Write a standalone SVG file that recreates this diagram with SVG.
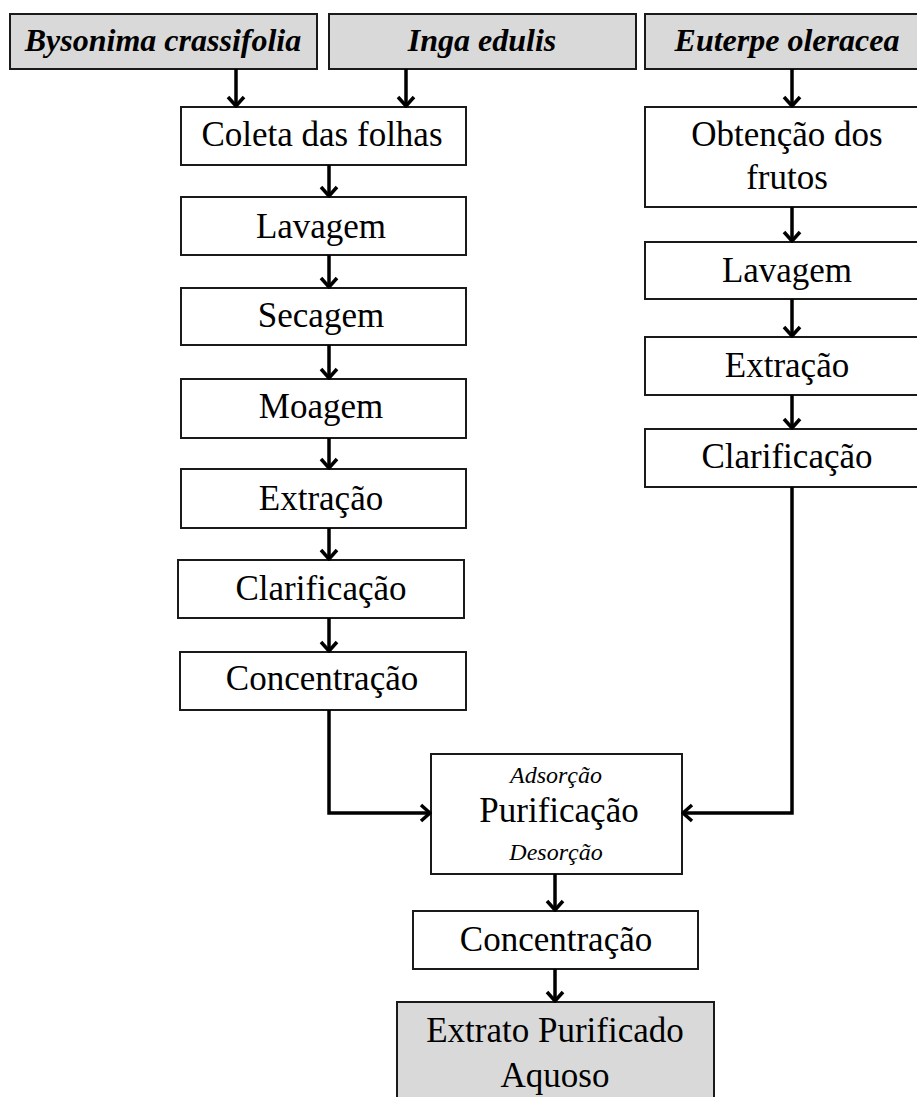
<svg xmlns="http://www.w3.org/2000/svg" width="917" height="1097" viewBox="0 0 917 1097">
<style>
.box{fill:#ffffff;stroke:#1a1a1a;stroke-width:2}
.gbox{fill:#d9d9d9;stroke:#1a1a1a;stroke-width:2}
.t{font-family:"Liberation Serif","Times New Roman",serif;font-size:35px;fill:#000;text-anchor:middle}
.h{font-family:"Liberation Serif","Times New Roman",serif;font-size:32px;font-weight:bold;font-style:italic;fill:#000;text-anchor:middle}
.s{font-family:"Liberation Serif","Times New Roman",serif;font-size:24px;font-style:italic;fill:#000;text-anchor:middle}
.c{fill:none;stroke:#000;stroke-width:3.5}
</style>
<defs>
<marker id="ah" viewBox="-12 -10 14 20" refX="0" refY="0" markerWidth="14" markerHeight="20" markerUnits="userSpaceOnUse" orient="auto">
<path d="M-9,-8 L0,0 L-9,8" fill="none" stroke="#000" stroke-width="3.5"/>
</marker>
</defs>
<rect width="917" height="1097" fill="#ffffff"/>
<g id="n-bysonima"><rect class="gbox" x="10" y="14" width="307" height="55"/><text class="h" x="163" y="51">Bysonima crassifolia</text></g>
<g id="n-inga"><rect class="gbox" x="329" y="14" width="307" height="55"/><text class="h" x="482" y="51">Inga edulis</text></g>
<g id="n-euterpe"><rect class="gbox" x="645" y="14" width="290" height="55"/><text class="h" x="787" y="51">Euterpe oleracea</text></g>
<g id="n-coleta"><rect class="box" x="181" y="107" width="285" height="58"/><text class="t" x="322" y="146">Coleta das folhas</text></g>
<g id="n-lavagem1"><rect class="box" x="181" y="197" width="285" height="58"/><text class="t" x="321" y="238">Lavagem</text></g>
<g id="n-secagem"><rect class="box" x="181" y="288" width="285" height="57"/><text class="t" x="321" y="327">Secagem</text></g>
<g id="n-moagem"><rect class="box" x="181" y="379" width="285" height="59"/><text class="t" x="321" y="418">Moagem</text></g>
<g id="n-extracao1"><rect class="box" x="181" y="469" width="285" height="59"/><text class="t" x="321" y="510">Extração</text></g>
<g id="n-clarificacao1"><rect class="box" x="178" y="560" width="286" height="58"/><text class="t" x="321" y="600">Clarificação</text></g>
<g id="n-concentracao1"><rect class="box" x="180" y="652" width="286" height="58"/><text class="t" x="322" y="690">Concentração</text></g>
<g id="n-obtencao"><rect class="box" x="645" y="107" width="290" height="100"/><text class="t" x="787" y="146">Obtenção dos</text><text class="t" x="787" y="189">frutos</text></g>
<g id="n-lavagem2"><rect class="box" x="645" y="242" width="290" height="57"/><text class="t" x="787" y="282">Lavagem</text></g>
<g id="n-extracao2"><rect class="box" x="645" y="337" width="290" height="58"/><text class="t" x="787" y="377">Extração</text></g>
<g id="n-clarificacao2"><rect class="box" x="645" y="429" width="290" height="58"/><text class="t" x="787" y="468">Clarificação</text></g>
<g id="n-purificacao"><rect class="box" x="431" y="754" width="251" height="120"/><text class="s" x="556" y="783">Adsorção</text><text class="t" x="559" y="822">Purificação</text><text class="s" x="556" y="860">Desorção</text></g>
<g id="n-concentracao2"><rect class="box" x="413" y="911" width="285" height="58"/><text class="t" x="556" y="951">Concentração</text></g>
<g id="n-extrato"><rect class="gbox" x="397" y="1002" width="317" height="110"/><text class="t" x="555" y="1042">Extrato Purificado</text><text class="t" x="555" y="1087">Aquoso</text></g>
<g id="connectors">
<line class="c" x1="236" y1="69" x2="236" y2="106" marker-end="url(#ah)"/>
<line class="c" x1="406" y1="69" x2="406" y2="106" marker-end="url(#ah)"/>
<line class="c" x1="792" y1="69" x2="792" y2="106" marker-end="url(#ah)"/>
<line class="c" x1="329" y1="165" x2="329" y2="196" marker-end="url(#ah)"/>
<line class="c" x1="329" y1="255" x2="329" y2="287" marker-end="url(#ah)"/>
<line class="c" x1="329" y1="345" x2="329" y2="378" marker-end="url(#ah)"/>
<line class="c" x1="329" y1="438" x2="329" y2="468" marker-end="url(#ah)"/>
<line class="c" x1="329" y1="528" x2="329" y2="559" marker-end="url(#ah)"/>
<line class="c" x1="329" y1="618" x2="329" y2="651" marker-end="url(#ah)"/>
<line class="c" x1="792" y1="207" x2="792" y2="241" marker-end="url(#ah)"/>
<line class="c" x1="792" y1="299" x2="792" y2="336" marker-end="url(#ah)"/>
<line class="c" x1="792" y1="395" x2="792" y2="428" marker-end="url(#ah)"/>
<polyline class="c" points="329,710 329,813 430,813" marker-end="url(#ah)"/>
<polyline class="c" points="792,487 792,813 683,813" marker-end="url(#ah)"/>
<line class="c" x1="555" y1="874" x2="555" y2="910" marker-end="url(#ah)"/>
<line class="c" x1="555" y1="969" x2="555" y2="1001" marker-end="url(#ah)"/>
</g>
</svg>
